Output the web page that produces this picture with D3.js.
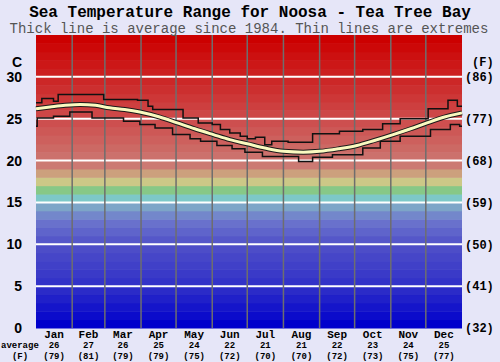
<!DOCTYPE html>
<html>
<head>
<meta charset="utf-8">
<script src="https://cdn.jsdelivr.net/npm/d3@7.9.0/dist/d3.min.js"></script>
<style>
  body { margin: 0; background: #e6e6f8; }
  svg { display: block; }
  .mono { font-family: "Liberation Mono", "DejaVu Sans Mono", monospace; }
</style>
</head>
<body>
<svg id="chart" width="500" height="362"></svg>
<script>
// month labels and average temps shown under the chart
const months = ['Jan', 'Feb', 'Mar', 'Apr', 'May', 'Jun', 'Jul', 'Aug', 'Sep', 'Oct', 'Nov', 'Dec'];
const monthStartDays = [0, 31, 59, 90, 120, 151, 181, 212, 243, 273, 304, 334, 365];
const monthAvgC = [26, 27, 26, 25, 24, 22, 21, 21, 22, 23, 24, 25];
const monthAvgF = [79, 81, 79, 79, 75, 72, 70, 70, 72, 73, 75, 77];

const cTicks = [0, 5, 10, 15, 20, 25, 30];
const fTicks = [32, 41, 50, 59, 68, 77, 86];

// average line (day of year, degC)
const avgDays = [0, 12, 25, 38, 51, 63, 76, 89, 106, 121, 136, 152, 166, 181, 196, 212, 229, 243, 259, 275, 290, 306, 321, 335, 350, 365];
const avgTemps = [26.2, 26.4, 26.6, 26.7, 26.6, 26.3, 26.1, 25.8, 25.2, 24.5, 23.8, 23.1, 22.5, 22.0, 21.5, 21.1, 21.0, 21.1, 21.4, 21.8, 22.4, 23.1, 23.8, 24.5, 25.2, 25.7];

// highest recorded (step start day, degC)
const maxDays = [0, 5, 15, 19, 58, 87, 96, 100, 126, 139, 151, 158, 166, 175, 181, 188, 196, 202, 216, 237, 260, 280, 297, 312, 336, 353, 361, 365];
const maxTemps = [26.9, 27.4, 27.1, 27.9, 27.3, 27.2, 26.5, 26.1, 25.1, 24.5, 24.3, 23.7, 23.3, 22.9, 22.6, 22.8, 21.9, 22.3, 22.2, 23.2, 23.5, 23.7, 24.4, 25.0, 26.2, 27.2, 26.5, 26.5];

// lowest recorded (step start day, degC)
const minDays = [0, 1, 15, 29, 48, 75, 89, 102, 117, 132, 141, 155, 168, 179, 194, 225, 237, 254, 280, 295, 312, 338, 355, 363, 365];
const minTemps = [24.1, 25.1, 25.3, 25.8, 25.1, 24.7, 24.3, 23.9, 23.1, 22.6, 22.3, 21.8, 21.4, 21.0, 20.5, 19.9, 20.4, 20.7, 21.5, 22.3, 22.9, 23.7, 24.3, 24.1, 24.1];

const svg = d3.select('#chart');
const plotL = 36, plotR = 462, plotT = 35, plotB = 328;

const x = d3.scaleLinear().domain([0, 365]).range([plotL, plotR]);
const y = d3.scaleLinear().domain([0, 35]).range([plotB, plotT]);

// background colour bands, one per degree
const bandColor = d3.scaleLinear()
  .domain([0.5, 5, 10, 13, 14.5, 15.5, 16.5, 17.5, 18.5, 19.5, 25, 30, 34.5])
  .range(['#0000cc', '#3030c8', '#5050c8', '#6e78cd', '#7da5c8', '#7dc8c8', '#87c887',
          '#ccc887', '#cca07d', '#cc7a73', '#cd4b4b', '#cc2323', '#cc0000'])
  .clamp(true);

svg.append('g').selectAll('rect')
  .data(d3.range(0, 35))
  .join('rect')
  .attr('x', plotL)
  .attr('width', plotR - plotL)
  .attr('y', (d) => y(d + 1))
  .attr('height', (d) => y(d) - y(d + 1) + 0.5)
  .attr('fill', (d) => bandColor(d + 0.5));

// white horizontal grid
svg.append('g').selectAll('line')
  .data(cTicks.filter((d) => d > 0))
  .join('line')
  .attr('x1', plotL).attr('x2', plotR)
  .attr('y1', (d) => y(d)).attr('y2', (d) => y(d))
  .attr('stroke', '#ffffff')
  .attr('stroke-width', 2);

// month dividers
svg.append('g').selectAll('line')
  .data(monthStartDays.slice(1, 12))
  .join('line')
  .attr('x1', (d) => x(d)).attr('x2', (d) => x(d))
  .attr('y1', plotT).attr('y2', plotB)
  .attr('stroke', '#6e6e6e')
  .attr('stroke-width', 1.5);

const stepLine = d3.line()
  .x((d) => x(d[0]))
  .y((d) => y(d[1]))
  .curve(d3.curveStepAfter);

svg.append('path')
  .attr('d', stepLine(maxDays.map((d, i) => [d, maxTemps[i]])))
  .attr('fill', 'none')
  .attr('stroke', '#111')
  .attr('stroke-width', 1.5);

svg.append('path')
  .attr('d', stepLine(minDays.map((d, i) => [d, minTemps[i]])))
  .attr('fill', 'none')
  .attr('stroke', '#111')
  .attr('stroke-width', 1.5);

const avgLine = d3.line()
  .x((d) => x(d[0]))
  .y((d) => y(d[1]))
  .curve(d3.curveMonotoneX);
const avgPath = avgLine(avgDays.map((d, i) => [d, avgTemps[i]]));

svg.append('path')
  .attr('d', avgPath)
  .attr('fill', 'none')
  .attr('stroke', '#1a1a1a')
  .attr('stroke-width', 5);
svg.append('path')
  .attr('d', avgPath)
  .attr('fill', 'none')
  .attr('stroke', '#fafac0')
  .attr('stroke-width', 3);

// titles
svg.append('text')
  .attr('class', 'mono')
  .attr('x', 250).attr('y', 17)
  .attr('text-anchor', 'middle')
  .attr('font-size', 16).attr('font-weight', 'bold')
  .attr('fill', '#000')
  .text('Sea Temperature Range for Noosa - Tea Tree Bay');
svg.append('text')
  .attr('class', 'mono')
  .attr('x', 249).attr('y', 33)
  .attr('text-anchor', 'middle')
  .attr('font-size', 14)
  .attr('fill', '#555')
  .text('Thick line is average since 1984. Thin lines are extremes');

// left (C) axis labels
const leftAxis = svg.append('g')
  .attr('font-family', '"Liberation Sans", Arial, sans-serif')
  .attr('font-weight', 'bold')
  .attr('font-size', 14)
  .attr('fill', '#000');
leftAxis.selectAll('text')
  .data(cTicks)
  .join('text')
  .attr('x', 22)
  .attr('y', (d) => y(d))
  .attr('dy', '0.36em')
  .attr('text-anchor', 'end')
  .text((d) => d);
leftAxis.append('text')
  .attr('x', 22).attr('y', 62).attr('dy', '0.36em')
  .attr('text-anchor', 'end')
  .text('C');

// right (F) axis labels
const rightAxis = svg.append('g')
  .attr('class', 'mono')
  .attr('font-weight', 'bold')
  .attr('font-size', 12)
  .attr('fill', '#000');
rightAxis.selectAll('text')
  .data(fTicks)
  .join('text')
  .attr('x', 465)
  .attr('y', (d, i) => y(cTicks[i]))
  .attr('dy', '0.36em')
  .text((d) => `(${d})`);
rightAxis.append('text')
  .attr('x', 472).attr('y', 62).attr('dy', '0.36em')
  .text('(F)');

// month labels with average C and F
const monthG = svg.append('g')
  .attr('class', 'mono')
  .attr('font-weight', 'bold')
  .attr('fill', '#000')
  .attr('text-anchor', 'middle');
months.forEach((m, i) => {
  const cx = x((monthStartDays[i] + monthStartDays[i + 1]) / 2);
  monthG.append('text').attr('x', cx).attr('y', 337.5)
    .attr('font-size', 11).text(m);
  monthG.append('text').attr('x', cx).attr('y', 348)
    .attr('font-size', 9).text(monthAvgC[i]);
  monthG.append('text').attr('x', cx).attr('y', 358.5)
    .attr('font-size', 9).text(`(${monthAvgF[i]})`);
});
monthG.append('text').attr('x', 1).attr('y', 348)
  .attr('text-anchor', 'start')
  .attr('font-size', 9).text('average');
monthG.append('text').attr('x', 20).attr('y', 358.5)
  .attr('font-size', 9).text('(F)');
</script>
</body>
</html>
